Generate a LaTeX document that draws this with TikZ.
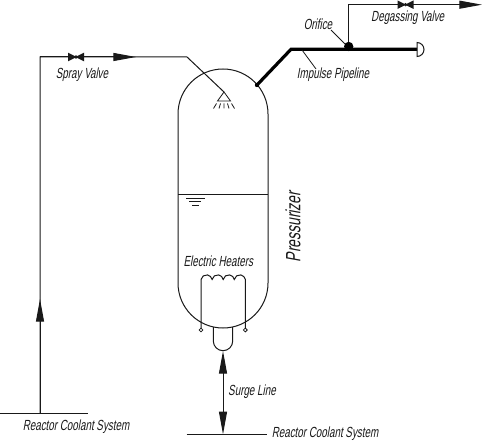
\documentclass[tikz,border=0pt]{standalone}
\usepackage{fontspec}
\setmainfont[FakeSlant=0.18,FakeStretch=0.67]{Liberation Sans}
\usetikzlibrary{arrows.meta,positioning,calc}
\definecolor{ink}{RGB}{25,25,25}
\tikzset{
  pipe/.style={draw=ink,line width=0.75pt},
  thin pipe/.style={draw=ink,line width=0.6pt},
  thick pipe/.style={draw=black,line width=2.4pt},
  flow/.style={pipe,-{Triangle[length=17pt,width=6pt]}},
  lbl/.style={font=\fontsize{11}{12}\selectfont,text=ink,inner sep=0pt},
  % valve symbol
  pics/valve/.style={code={
    \fill[ink] (-8,-4.3)--(-1,-0.8)--(1,-0.8)--(8,-4.3)--(8,4.3)--(1,0.8)--(-1,0.8)--(-8,4.3)--cycle;
    \fill[ink] (0,0) circle (1.8);
  }},
}
\begin{document}
\begin{tikzpicture}[x=0.75pt,y=-0.75pt]
  \useasboundingbox (0,0) rectangle (484,441);
  % vessel
  \draw[pipe] (178,114) arc[start angle=180,end angle=360,radius=45] -- (268,283)
    arc[start angle=0,end angle=180,radius=45] -- cycle;
  \coordinate (domeL) at (224,92);
  \coordinate (level L) at (178,195);
  \coordinate (level R) at (268,195);
  \draw[pipe] (level L) -- (level R);
  \draw[thin pipe] (186,198) -- (205,198) (189,201.7) -- (201,201.7) (192,205) -- (199,205);

  % spray line
  \coordinate (rcsA) at (40,413);
  \coordinate (bendA) at (40,57);
  \coordinate (bendB) at (187,57);
  \draw[pipe] (rcsA) -- (bendA) -- (bendB) -- (domeL);
  \draw[flow] (rcsA) -- (40,299);
  \draw[flow] (bendA) -- (136,57);
  \draw[pipe] (0,413) -- (88,413);
  \pic at (76,57) {valve};
  % spray head
  \draw[thin pipe] (domeL) -- (230.5,101) -- (217.5,101) -- cycle;
  \draw[thin pipe] (216.5,103.5) -- (213.5,108.5) (220.5,103.5) -- (219,108.5)
    (224,103.5) -- (224,108.5) (227.5,103.5) -- (229,108.5) (231.5,103.5) -- (234.5,108.5);

  % impulse pipeline
  \coordinate (nozzle) at (257,85);
  \coordinate (bendC) at (291,49.3);
  \coordinate (capP) at (417,49.3);
  \draw[thick pipe] (nozzle) -- (bendC) -- (capP);
  \fill[black] (nozzle) circle (2.2);
  \draw[pipe] (417,42.5) arc[start angle=-90,end angle=90,radius=7] -- cycle;
  \node[circle,fill=black,minimum size=7pt,inner sep=0pt] (orifice) at (348.7,46.5) {};
  \coordinate (bendD) at (348.7,4.7);
  \draw[flow] (orifice) -- (bendD) -- (482,4.7);
  \pic at (405.5,4.7) {valve};

  % heaters
  \draw[pipe] (201,328) -- (201,279.5)
    arc[start angle=190,end angle=350,radius=5.63]
    arc[start angle=190,end angle=350,radius=5.63]
    arc[start angle=190,end angle=350,radius=5.63]
    arc[start angle=190,end angle=350,radius=5.63]
    -- (245.3,328);
  \draw[thin pipe,fill=white] (201,330) circle (1.9);
  \draw[thin pipe,fill=white] (245.3,330) circle (1.9);

  % surge line
  \draw[pipe] (213.3,327) -- (213.3,341) arc[start angle=180,end angle=0,radius=9.7] -- (232.7,327);
  \coordinate (surgeT) at (223,351);
  \coordinate (surgeB) at (223,434.3);
  \coordinate (surgeM) at (223,392);
  \draw[flow] (surgeM) -- (surgeT);
  \draw[flow] (surgeM) -- (surgeB);
  \draw[pipe] (186.7,434.3) -- (266.7,434.3);

  % leaders
  \node[lbl] (orificeL) at (318,24) {Orifice};
  \node[lbl] (impulseL) at (333,75) {Impulse Pipeline};
  \draw[thin pipe] (331,30) -- (345,44);
  \draw[thin pipe] (302,50) -- (316,69);

  % labels
  \node[lbl] (sprayL) at (82,74.7) {Spray Valve};
  \node[lbl] (degasL) at (407.7,17.3) {Degassing Valve};
  \node[lbl] (heatL) at (218.3,261) {Electric Heaters};
  \node[lbl] (surgeL) at (252,392) {Surge Line};
  \node[lbl] (rcsAL) at (76,427) {Reactor Coolant System};
  \node[lbl] (rcsBL) at (325,433.7) {Reactor Coolant System};
  \node[lbl,font=\fontsize{15.5}{16}\selectfont,rotate=90] (presL) at (293,227) {Pressurizer};
\end{tikzpicture}
\end{document}
